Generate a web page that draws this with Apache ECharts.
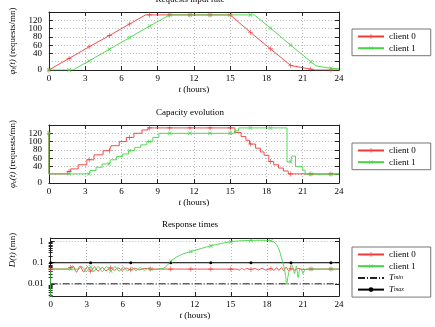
<!DOCTYPE html>
<html>
<head>
<meta charset="utf-8">
<script src="https://cdn.jsdelivr.net/npm/echarts@6/dist/echarts.min.js"></script>
<style>
html, body { margin: 0; padding: 0; background: #fff; }
#chart { width: 435px; height: 327px; }
</style>
</head>
<body>
<div id="chart"></div>
<script>
// time axis (hours)
const hourMin = 0
const hourMax = 24
const hourStep = 3
const markerStep = 5 / 3
const tmaxMarkerStep = 10 / 3

// panel 1: requests input rate [t, requests/mn]
const input0 = [[0, 0], [1.67, 28], [3.33, 56], [5, 83], [6.67, 111], [8, 133], [8.33, 133], [10, 133],
  [11.67, 133], [13.33, 133], [15, 133], [16.67, 91], [18.33, 51], [20, 11], [21.67, 2], [22, 0], [23.33, 0], [24, 0]]
const input1 = [[0, 0], [1.67, 0], [2, 0], [3.33, 22], [5, 50], [6.67, 78], [8.33, 106], [10, 133], [11.67, 133],
  [13.33, 133], [15, 133], [16.67, 133], [17, 133], [18.33, 101], [20, 60], [21.67, 20], [22.1, 10], [23.33, 4], [24, 3]]

// panel 2: capacity evolution (stairs) [t, requests/mn]
const capacity0 = [[0, 120], [0, 22], [1.53, 22], [1.53, 28], [1.67, 28], [1.8, 28], [1.8, 34], [2.42, 34], [2.42, 44],
  [3.14, 44], [3.14, 56], [3.33, 56], [3.73, 56], [3.73, 68], [4.48, 68], [4.48, 78], [5, 78], [5.15, 78], [5.15, 90],
  [5.82, 90], [5.82, 100], [6.41, 100], [6.41, 110], [6.67, 110], [7.03, 110], [7.03, 120], [7.7, 120], [7.7, 128],
  [8.2, 128], [8.2, 133], [8.33, 133], [10, 133], [11.67, 133], [13.33, 133], [15, 133], [15.4, 133], [15.4, 122],
  [15.9, 122], [15.9, 112], [16.3, 112], [16.3, 103], [16.6, 103], [16.6, 94], [16.67, 94], [17.1, 94], [17.1, 84],
  [17.5, 84], [17.5, 75], [17.8, 75], [17.8, 67], [18.2, 67], [18.2, 52], [18.33, 52], [18.6, 52], [18.6, 44],
  [19, 44], [19, 36], [19.4, 36], [19.4, 29], [19.8, 29], [19.8, 22], [20, 22], [21.67, 22], [23.33, 22], [24, 22]]
const capacity1 = [[0, 120], [0, 22], [1.67, 22], [3.33, 22], [3.4, 22], [3.4, 30], [3.9, 30], [3.9, 38], [4.4, 38],
  [4.4, 46], [5, 46], [5.1, 46], [5.1, 56], [5.6, 56], [5.6, 64], [6.1, 64], [6.1, 70], [6.6, 70], [6.6, 78], [6.67, 78],
  [7.1, 78], [7.1, 86], [7.6, 86], [7.6, 92], [8.1, 92], [8.1, 100], [8.33, 100], [8.6, 100], [8.6, 110], [9.1, 110],
  [9.1, 120], [10, 120], [11.67, 120], [13.33, 120], [15, 120], [15.35, 120], [15.35, 126], [15.7, 126], [15.7, 133],
  [16.67, 133], [18.33, 133], [19.7, 133], [19.7, 51], [20, 51], [20.1, 51], [20.1, 65], [20.4, 65], [20.4, 40],
  [21, 40], [21, 31], [21.2, 31], [21.2, 21], [21.67, 21], [23.33, 21], [24, 21]]

// panel 3: response times [t, mn] (log scale)
const response0 = [[0, 0.05], [1.5, 0.05], [1.67, 0.06], [1.85, 0.07], [2.15, 0.036], [2.45, 0.07], [2.75, 0.036],
  [3.05, 0.066], [3.33, 0.04], [3.65, 0.063], [3.95, 0.04], [4.3, 0.06], [4.6, 0.042], [5, 0.057], [5.3, 0.044],
  [5.6, 0.057], [5.95, 0.044], [6.3, 0.056], [6.67, 0.046], [7, 0.055], [7.4, 0.046], [7.8, 0.054], [8.33, 0.05],
  [10, 0.05], [11.67, 0.05], [13.33, 0.05], [15, 0.05], [15.5, 0.05], [15.7, 0.044], [15.9, 0.055], [16.1, 0.045],
  [16.3, 0.054], [16.67, 0.048], [17, 0.053], [17.3, 0.046], [17.6, 0.054], [17.9, 0.045], [18.33, 0.052],
  [18.6, 0.044], [18.8, 0.058], [19, 0.043], [19.2, 0.06], [19.4, 0.041], [19.6, 0.062], [19.8, 0.042], [20, 0.052],
  [20.3, 0.045], [20.6, 0.054], [21, 0.048], [21.67, 0.05], [23.33, 0.05], [24, 0.05]]
const response1 = [[0, 0.0028], [0.03, 0.05], [1.67, 0.05], [2.3, 0.05], [2.6, 0.066], [2.95, 0.038], [3.33, 0.064],
  [3.6, 0.038], [3.95, 0.066], [4.3, 0.038], [4.65, 0.066], [5, 0.04], [5.35, 0.065], [5.7, 0.04], [6.05, 0.063],
  [6.4, 0.041], [6.75, 0.061], [7.1, 0.042], [7.45, 0.059], [7.8, 0.044], [8.15, 0.056], [8.33, 0.05], [8.5, 0.047],
  [9, 0.05], [9.4, 0.055], [9.7, 0.075], [10, 0.12], [10.5, 0.19], [11, 0.26], [11.67, 0.34], [12.5, 0.47],
  [13.33, 0.64], [14.2, 0.82], [15, 1.0], [15.8, 1.1], [16.67, 1.15], [17.5, 1.17], [18.33, 1.1], [18.7, 0.85],
  [19, 0.45], [19.2, 0.18], [19.4, 0.07], [19.55, 0.025], [19.65, 0.0095], [19.75, 0.022], [19.9, 0.052],
  [20.05, 0.083], [20.2, 0.05], [20.3, 0.03], [20.45, 0.07], [20.6, 0.02], [20.75, 0.05], [20.9, 0.045], [21, 0.03],
  [21.2, 0.048], [21.67, 0.05], [23.33, 0.05], [24, 0.05]]
const tMax = [[0, 0.1], [3.33, 0.1], [6.67, 0.1], [10, 0.1], [13.33, 0.1], [16.67, 0.1], [20, 0.1], [23.33, 0.1], [24, 0.1]]
const tMin = [[0, 0.01], [24, 0.01]]

// axis ticks
const rateTicks = { min: 0, max: 140, interval: 20 }
const rateTickLabels = [20, 40, 60, 80, 100, 120, 140]
const rateZeroLabel = [0]
const responseRange = [0.00263, 1.5]
const responseTicks = [0.01, 0.1, 1]
const responseTickLabels = ['0.01', '0.1', '1']

const font = 'Liberation Serif'
const red = '#f03a3a'
const green = '#46d446'
const plusPath = 'path://M4.4,0H5.6V4.4H10V5.6H5.6V10H4.4V5.6H0V4.4H4.4Z'

const frame = { color: '#222', width: 1 }
const gridLine = { show: true, lineStyle: { color: '#b8b8b8', width: 1, type: [1, 2] } }
const labelStyle = { color: '#000', fontFamily: font, fontSize: 9 }
const richText = {
  i: { fontFamily: font, fontSize: 9, fontStyle: 'italic', color: '#000' },
  s: { fontFamily: font, fontSize: 6, fontStyle: 'italic', color: '#000', verticalAlign: 'bottom', padding: [4, 0, 0, 0] }
}

function toItems(points, step, mapY) {
  const seen = new Set()
  return points.map(([t, v]) => {
    const k = t / step
    const key = Math.round(k)
    const mark = Math.abs(k - key) < 0.012 && !seen.has(key)
    if (mark) seen.add(key)
    const y = mapY ? mapY(v) : v
    return mark ? [t, y] : { value: [t, y], symbol: 'none' }
  })
}

function xAxesFor(gridIndex) {
  const base = { type: 'value', gridIndex, min: hourMin, max: hourMax, interval: hourStep,
    axisLine: { show: true, onZero: false, lineStyle: frame },
    axisTick: { show: true, inside: true, length: 4, lineStyle: frame } }
  return [
    Object.assign({}, base, { position: 'bottom',
      axisLabel: Object.assign({ margin: 4, showMinLabel: true, showMaxLabel: true, hideOverlap: false }, labelStyle),
      splitLine: gridLine, name: '{i|t} (hours)', nameLocation: 'middle', nameGap: 15,
      nameTextStyle: Object.assign({ rich: richText }, labelStyle) }),
    Object.assign({}, base, { position: 'top', axisLabel: { show: false }, splitLine: { show: false } })
  ]
}

function rateYAxes(gridIndex, name) {
  const base = Object.assign({ type: 'value', gridIndex,
    axisLine: { show: true, onZero: false, lineStyle: frame },
    axisTick: { show: true, inside: true, length: 4, lineStyle: frame } }, rateTicks)
  return [
    Object.assign({}, base, { position: 'left',
      axisLabel: Object.assign({ margin: 7, interval: 0, customValues: rateTickLabels, hideOverlap: false,
        lineHeight: 7 }, labelStyle),
      splitLine: gridLine, name, nameLocation: 'middle', nameGap: 30,
      nameTextStyle: Object.assign({ rich: richText }, labelStyle) }),
    Object.assign({}, base, { position: 'right', axisLabel: { show: false }, splitLine: { show: false } }),
    // separate label-only axis for the 0 label
    Object.assign({}, rateTicks, { type: 'value', gridIndex, position: 'left', axisLine: { show: false },
      axisTick: { show: false }, splitLine: { show: false },
      axisLabel: Object.assign({ margin: 7, customValues: rateZeroLabel, showMinLabel: true, lineHeight: 7 }, labelStyle) })
  ]
}

const logMin = Math.log10(responseRange[0])
const logMax = Math.log10(responseRange[1])
const logMajor = responseTicks.map(v => Math.log10(v))
const logMinor = []
for (let d = -3; d <= 0; d++) {
  for (let k = 2; k <= 9; k++) {
    const p = d + Math.log10(k)
    if (p > logMin && p < logMax) logMinor.push(p)
  }
}

function responseYAxes(gridIndex) {
  const base = { type: 'value', gridIndex, min: logMin, max: logMax,
    axisLine: { show: true, onZero: false, lineStyle: frame },
    axisTick: { show: true, inside: true, length: 4, lineStyle: frame, customValues: logMajor } }
  const minor = { type: 'value', gridIndex, min: logMin, max: logMax, axisLine: { show: false },
    axisLabel: { show: false }, splitLine: { show: false },
    axisTick: { show: true, inside: true, length: 2, lineStyle: frame, customValues: logMinor } }
  return [
    Object.assign({}, base, { position: 'left',
      axisLabel: Object.assign({ margin: 7, customValues: logMajor,
        formatter: v => responseTickLabels[logMajor.findIndex(m => Math.abs(m - v) < 1e-6)] || '' }, labelStyle),
      splitLine: gridLine, name: '{i|D(t)} (mn)', nameLocation: 'middle', nameGap: 31,
      nameTextStyle: Object.assign({ rich: richText, padding: [0, 0, 0, 34] }, labelStyle) }),
    Object.assign({}, base, { position: 'right', axisLabel: { show: false }, splitLine: { show: false } }),
    Object.assign({}, minor, { position: 'left' }),
    Object.assign({}, minor, { position: 'right' })
  ]
}

function clientSeries(name, color, rotate, points, xi, yi, mapY, smooth) {
  return {
    name, type: 'line', xAxisIndex: xi, yAxisIndex: yi,
    data: toItems(points, markerStep, mapY),
    symbol: plusPath, symbolSize: 5, symbolRotate: rotate, showSymbol: true,
    smooth: smooth || false,
    lineStyle: { color, width: 0.9 }, itemStyle: { color },
    animation: false, silent: true
  }
}

function legendAt(top, data) {
  return {
    orient: 'vertical', left: 352, top, data, selectedMode: false,
    padding: [3, 15, 3, 5], itemWidth: 26, itemHeight: 6, itemGap: 2.7,
    borderColor: '#777', borderWidth: 1, borderRadius: 0,
    formatter: n => n === 'Tmin' ? '{i|T}{s|min}' : n === 'Tmax' ? '{i|T}{s|max}' : n,
    textStyle: Object.assign({ lineHeight: 6, rich: richText }, labelStyle)
  }
}

const chart = echarts.init(document.getElementById('chart'), null, { renderer: 'canvas' })
chart.setOption({
  animation: false,
  grid: [
    { left: 41, top: 12, width: 298, height: 58 },
    { left: 41, top: 125, width: 298, height: 58 },
    { left: 41, top: 238, width: 298, height: 58 }
  ],
  xAxis: [].concat(xAxesFor(0), xAxesFor(1), xAxesFor(2)),
  yAxis: [].concat(
    rateYAxes(0, '{i|φ}{s|i}{i|(t)} (requests/mn)'),
    rateYAxes(1, '{i|φ}{s|o}{i|(t)} (requests/mn)'),
    responseYAxes(2)
  ),
  legend: [
    legendAt(29, ['client 0', 'client 1']),
    legendAt(143, ['client 0', 'client 1']),
    legendAt(247, ['client 0', 'client 1', 'Tmin', 'Tmax'])
  ],
  graphic: [
    { type: 'text', x: 190, y: 0, style: { text: 'Requests input rate', align: 'center', verticalAlign: 'middle', font: '9px "Liberation Serif"', fill: '#000' } },
    { type: 'text', x: 190, y: 113, style: { text: 'Capacity evolution', align: 'center', verticalAlign: 'middle', font: '9px "Liberation Serif"', fill: '#000' } },
    { type: 'text', x: 190, y: 225, style: { text: 'Response times', align: 'center', verticalAlign: 'middle', font: '9px "Liberation Serif"', fill: '#000' } }
  ],
  series: [
    clientSeries('client 0', red, 0, input0, 0, 0),
    clientSeries('client 1', green, 45, input1, 0, 0),
    clientSeries('client 0', red, 0, capacity0, 2, 3),
    clientSeries('client 1', green, 45, capacity1, 2, 3),
    {
      name: 'Tmin', type: 'line', xAxisIndex: 4, yAxisIndex: 6,
      data: tMin.map(([t, v]) => [t, Math.log10(v)]),
      symbol: 'circle', showSymbol: false,
      lineStyle: { color: '#222', width: 1, type: [7, 2, 1, 2] }, itemStyle: { color: 'rgba(0,0,0,0)' },
      animation: false, silent: true
    },
    {
      name: 'Tmax', type: 'line', xAxisIndex: 4, yAxisIndex: 6,
      data: toItems(tMax, tmaxMarkerStep, Math.log10),
      symbol: 'circle', symbolSize: 3, showSymbol: true,
      lineStyle: { color: '#000', width: 1 }, itemStyle: { color: '#000' },
      animation: false, silent: true
    },
    clientSeries('client 0', red, 0, response0, 4, 6, Math.log10, 0.3),
    clientSeries('client 1', green, 45, response1, 4, 6, Math.log10, 0.3)
  ]
})
</script>
</body>
</html>
